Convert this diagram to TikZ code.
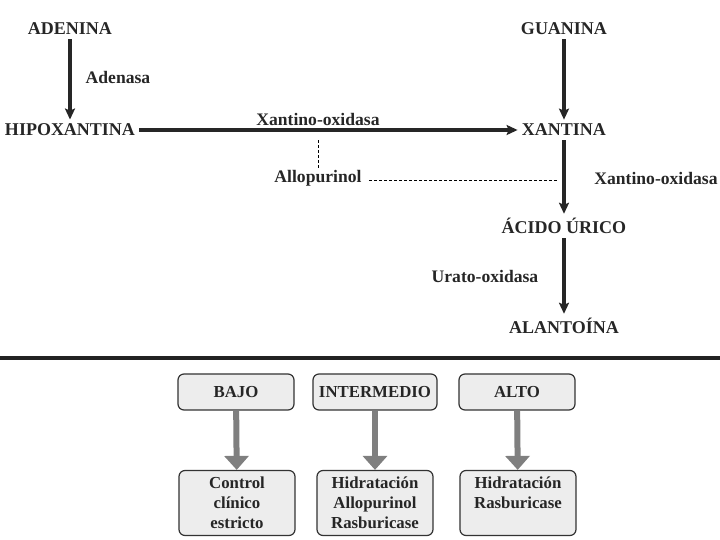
\documentclass[tikz,border=0pt]{standalone}
\usepackage{fontspec}
\setmainfont{Liberation Serif}
\usepackage{tikz}
\usetikzlibrary{arrows.meta, positioning}

\definecolor{boxgray}{HTML}{EDEDED}
\definecolor{arrowgray}{HTML}{7F7F7F}
\definecolor{rulegray}{HTML}{222222}

\begin{document}
\begin{tikzpicture}[x=0.5pt, y=-0.5pt,
    every node/.style={font=\fontsize{8.4}{10}\selectfont\bfseries, text=black!85},
    mol/.style={inner sep=2pt, font=\fontsize{9}{10}\selectfont\bfseries},
    enz/.style={inner sep=1pt, font=\fontsize{8.8}{10}\selectfont\bfseries},
    flow/.style={-{Stealth[length=5.5pt, width=5pt, inset=1pt]}, line width=1.6pt, black!85},
    block/.style={line width=0.4pt, dash pattern=on 1.5pt off 1pt},
    risk/.style={rectangle, draw=black!80, line width=0.6pt, rounded corners=3pt, fill=boxgray, minimum width=58pt, minimum height=18pt, align=center, inner sep=3pt},
    treat/.style={risk, minimum height=32.5pt},
    riskarrow/.style={-{Triangle[length=7pt, width=12pt]}, line width=3pt, arrowgray}]
    \useasboundingbox (0,0) rectangle (720,540);

    % purine pathway
    \node[mol] (adenina) at (70,29) {ADENINA};
    \node[mol] (hipox) at (70,130) {HIPOXANTINA};
    \node[mol] (guanina) at (564,29) {GUANINA};
    \node[mol] (xantina) at (564,130) {XANTINA};
    \node[mol] (acido) at (564,226) {ÁCIDO ÚRICO};
    \node[mol] (alanto) at (564,326) {ALANTOÍNA};
    \node[enz] (adenasa) at (118,77) {Adenasa};
    \node[enz] (xo1) at (318,119) {Xantino-oxidasa};
    \node[enz] (xo2) at (656,178) {Xantino-oxidasa};
    \node[enz] (urox) at (485,276) {Urato-oxidasa};
    \node[enz] (allo) at (318,178) {Allopurinol};
    \coordinate (allotop) at (318,140);
    \coordinate (allostop) at (557,180);
    \draw[flow] (adenina) -- (hipox);
    \draw[flow] (guanina) -- (xantina);
    \draw[flow] (hipox) -- (xantina);
    \draw[flow] (xantina) -- (acido);
    \draw[flow] (acido) -- (alanto);
    \draw[block] (allo.north) -- (allotop);
    \draw[block, shorten <=2.5pt] (allo.east |- allostop) -- (allostop);

    % separator
    \coordinate (sepL) at (0,358.5);
    \coordinate (sepR) at (720,358.5);
    \draw[line width=2pt, rulegray] (sepL) -- (sepR);

    % risk levels
    \node[risk] (bajo) at (236,392) {BAJO};
    \node[risk] (inter) at (375,392) {INTERMEDIO};
    \node[risk] (alto) at (517,392) {ALTO};
    \node[treat] (tbajo) at (237,503) {Control\\clínico\\estricto};
    \node[treat] (tinter) at (375,503) {Hidratación\\Allopurinol\\Rasburicase};
    \node[treat] (talto) at (518,503) {Hidratación\\Rasburicase\\\phantom{X}};
    \draw[riskarrow] (bajo) -- (tbajo);
    \draw[riskarrow] (inter) -- (tinter);
    \draw[riskarrow] (alto) -- (talto);
\end{tikzpicture}
\end{document}
